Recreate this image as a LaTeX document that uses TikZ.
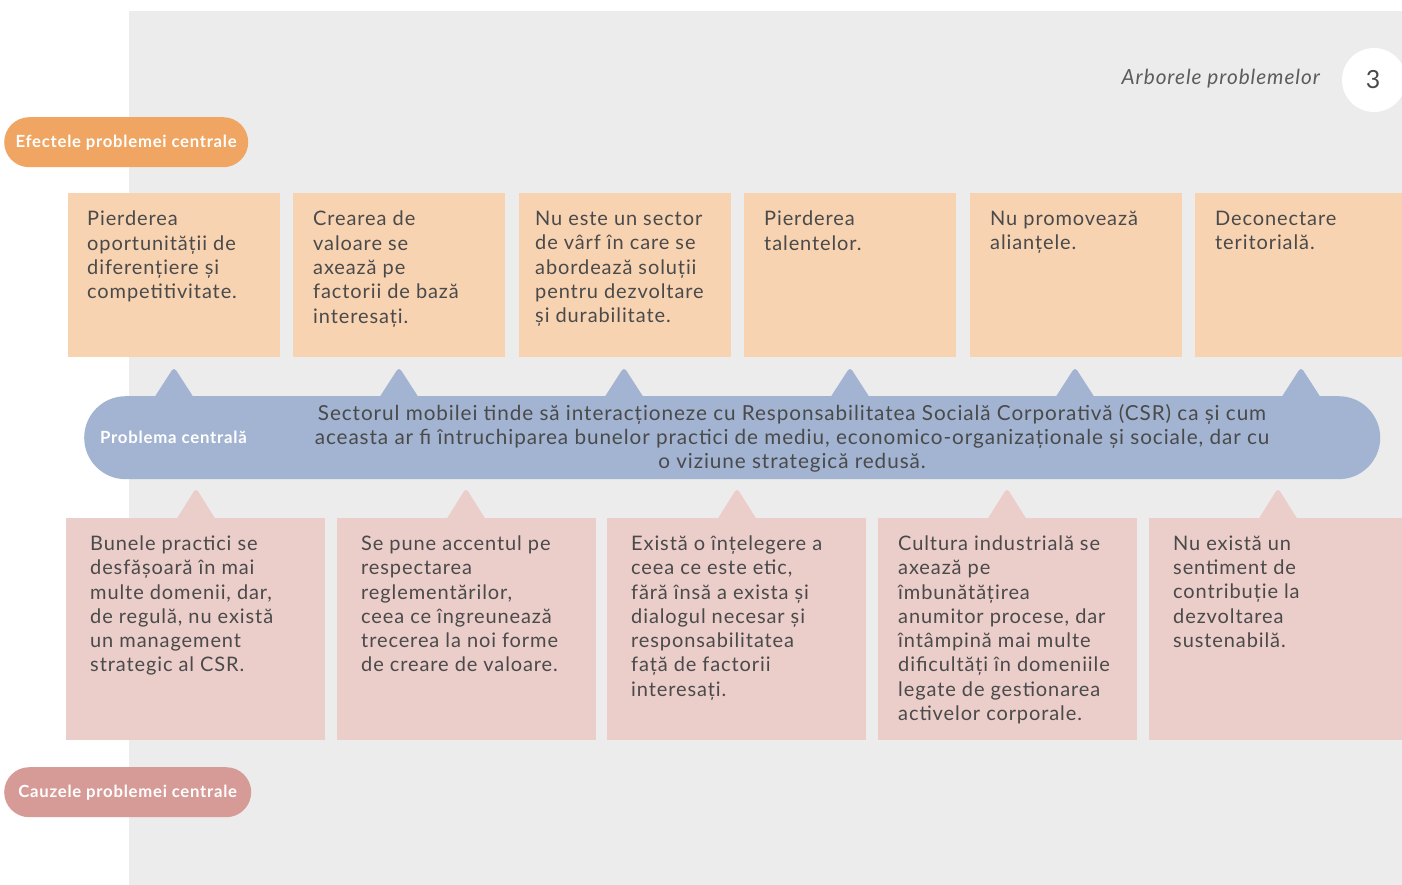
\documentclass[tikz,border=0pt]{standalone}
\usepackage{fontspec}
\setmainfont{Lato}[LetterSpace=4.5]
\definecolor{bggray}{HTML}{ECECEC}
\definecolor{peach}{HTML}{F7D3B2}
\definecolor{orangepill}{HTML}{F0A662}
\definecolor{barblue}{HTML}{A2B4D2}
\definecolor{pinkbox}{HTML}{EBCDCA}
\definecolor{pinkpill}{HTML}{D79B97}
\definecolor{txt}{HTML}{4A4A4A}
\tikzset{
  topbox/.style={fill=peach, draw=none, anchor=north west, minimum width=212pt, minimum height=164pt, inner sep=0pt},
  botbox/.style={fill=pinkbox, draw=none, anchor=north west, minimum width=259pt, minimum height=222pt, inner sep=0pt},
  boxtext/.style={anchor=north west, inner sep=0pt, align=left, text=txt, font=\fontsize{20}{24.3}\selectfont},
  pill/.style={rounded corners=25pt, draw=none, anchor=north west, minimum height=50pt, inner sep=0pt, text=white, font=\bfseries\fontsize{16.7}{20}\selectfont},
  uptri/.style={fill=barblue},
  dntri/.style={fill=pinkbox}
}
\begin{document}
\begin{tikzpicture}[x=1pt,y=-1pt]
\useasboundingbox (0,0) rectangle (1402,885);
\fill[white] (0,0) rectangle (1402,885);
\fill[bggray] (129,11) rectangle (1402,885);
% header
\node[circle, fill=white, minimum size=64pt, inner sep=0pt] (num) at (1374,80) {};
\node[text=txt, font=\fontsize{25}{30}\selectfont] (numtext) at (1373,80) {3};
\node[anchor=east, inner sep=0pt, text=txt!90, font=\itshape\fontsize{20.8}{24}\selectfont] (title) at (1320,79) {Arborele problemelor};
% pills
\node[pill, fill=orangepill, minimum width=244pt] (eff) at (4,117) {Efectele problemei centrale};
\node[pill, fill=pinkpill, minimum width=247pt] (cau) at (4,767) {Cauzele problemei centrale};
% upward triangles (blue)
\foreach \cx in {174,399,624,850,1075,1301}{
  \fill[uptri] (\cx-20,398) [rounded corners=4pt]-- (\cx,367) [sharp corners]-- (\cx+20,398) -- cycle;
}
% triangles under the bar (pink)
\foreach \cx in {196,466,737,1007,1278}{
  \fill[dntri] (\cx-20,520) [rounded corners=4pt]-- (\cx,488) [sharp corners]-- (\cx+20,520) -- cycle;
}
% central bar
\node[fill=barblue, rounded corners=41.5pt, anchor=north west, minimum width=1296pt, minimum height=83pt, inner sep=0pt] (bar) at (84,396) {};
\node[anchor=west, inner sep=0pt, text=white, font=\bfseries\fontsize{16.8}{20}\selectfont] (pc) at (100,437) {Problema centrală};
\node[align=center, text=txt, font=\fontsize{20.7}{24}\selectfont, inner sep=0pt] (ctext) at (792,438.5) {Sectorul mobilei tinde să interacționeze cu Responsabilitatea Socială Corporativă (CSR) ca și cum\\aceasta ar fi întruchiparea bunelor practici de mediu, economico-organizaționale și sociale, dar cu\\o viziune strategică redusă.};
% top boxes
\node[topbox] (t1) at (68,193) {};
\node[topbox] (t2) at (293,193) {};
\node[topbox] (t3) at (519,193) {};
\node[topbox] (t4) at (744,193) {};
\node[topbox] (t5) at (970,193) {};
\node[topbox, minimum width=207pt] (t6) at (1195,193) {};
\node[boxtext] (tt1) at (87,211) {Pierderea\\oportunității de\\diferențiere și\\competitivitate.};
\node[boxtext] (tt2) at (313,211) {Crearea de\\valoare se\\axează pe\\factorii de bază\\interesați.};
\node[boxtext] (tt3) at (535,211) {Nu este un sector\\de vârf în care se\\abordează soluții\\pentru dezvoltare\\și durabilitate.};
\node[boxtext] (tt4) at (764,211) {Pierderea\\talentelor.};
\node[boxtext] (tt5) at (990,211) {Nu promovează\\alianțele.};
\node[boxtext] (tt6) at (1215,211) {Deconectare\\teritorială.};
% bottom boxes
\node[botbox] (b1) at (66,518) {};
\node[botbox] (b2) at (337,518) {};
\node[botbox] (b3) at (607,518) {};
\node[botbox] (b4) at (878,518) {};
\node[botbox, minimum width=253pt] (b5) at (1149,518) {};
\node[boxtext] (bt1) at (90,535.5) {Bunele practici se\\desfășoară în mai\\multe domenii, dar,\\de regulă, nu există\\un management\\strategic al CSR.};
\node[boxtext] (bt2) at (361,535.5) {Se pune accentul pe\\respectarea\\reglementărilor,\\ceea ce îngreunează\\trecerea la noi forme\\de creare de valoare.};
\node[boxtext] (bt3) at (631,535.5) {Există o înțelegere a\\ceea ce este etic,\\fără însă a exista și\\dialogul necesar și\\responsabilitatea\\față de factorii\\interesați.};
\node[boxtext] (bt4) at (898,535.5) {Cultura industrială se\\axează pe\\îmbunătățirea\\anumitor procese, dar\\întâmpină mai multe\\dificultăți în domeniile\\legate de gestionarea\\activelor corporale.};
\node[boxtext] (bt5) at (1173,535.5) {Nu există un\\sentiment de\\contribuție la\\dezvoltarea\\sustenabilă.};
\end{tikzpicture}
\end{document}
